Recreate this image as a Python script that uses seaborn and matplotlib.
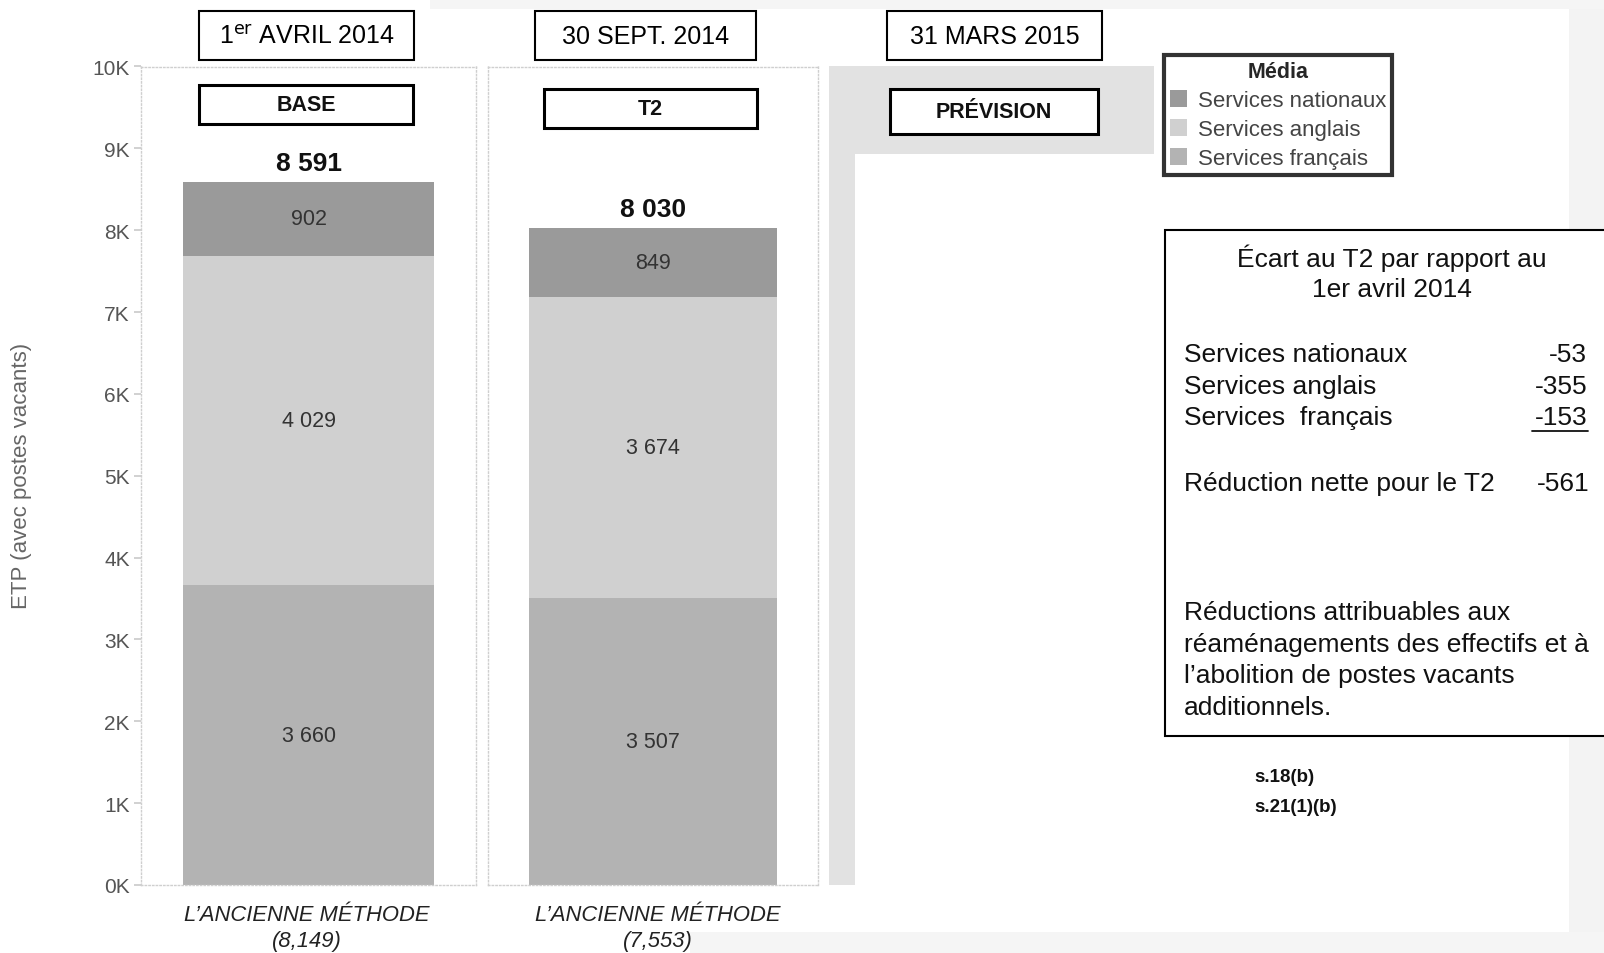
import matplotlib
matplotlib.use("Agg")
import matplotlib.pyplot as plt
import seaborn as sns
import pandas as pd
from matplotlib.patches import Rectangle, Patch
from matplotlib.lines import Line2D

sns.set_theme(style="white")
plt.rcParams['font.family'] = ['Liberation Sans', 'DejaVu Sans']

# ---------------- data ----------------
periods = ["1er AVRIL 2014", "30 SEPT. 2014", "31 MARS 2015"]
phases = ["BASE", "T2", "PRÉVISION"]
series = ["Services nationaux", "Services anglais", "Services français"]
francais = [3660, 3507]
anglais = [4029, 3674]
nationaux = [902, 849]
ancienne = ["(8,149)", "(7,553)"]
yticks = [0, 1000, 2000, 3000, 4000, 5000, 6000, 7000, 8000, 9000, 10000]
ytick_labels = ["0K", "1K", "2K", "3K", "4K", "5K", "6K", "7K", "8K", "9K", "10K"]
ecart_labels = ["Services nationaux", "Services anglais", "Services  français"]
ecart_values = ["-53", "-355", "-153"]
reduction_nette = "-561"

colors = {"Services nationaux": "#9a9a9a", "Services anglais": "#d0d0d0",
          "Services français": "#b3b3b3"}

W, H = 1604, 954
fig = plt.figure(figsize=(W / 100, H / 100), dpi=100)
fig.patch.set_facecolor("white")


def fx(x):
    return x / W


def fy(y):
    return 1 - y / H


def add_axes_px(x0, x1, y0, y1):
    return fig.add_axes([fx(x0), fy(y1), (x1 - x0) / W, (y1 - y0) / H])


# faint scan artefacts
fig.add_artist(Rectangle((fx(1569), fy(933)), 1, 933 / H, transform=fig.transFigure,
                         facecolor="#f3f3f3", edgecolor="none", zorder=0))
fig.add_artist(Rectangle((fx(690), 0), 1, 21 / H, transform=fig.transFigure,
                         facecolor="#f5f5f5", edgecolor="none", zorder=0))
fig.add_artist(Rectangle((fx(430), fy(10)), 1, 10 / H, transform=fig.transFigure,
                         facecolor="#f5f5f5", edgecolor="none", zorder=0))

# third panel grey background
fig.add_artist(Rectangle((fx(829), fy(155)), (1154 - 829) / W, (155 - 67) / H,
                         transform=fig.transFigure, facecolor="#e2e2e2",
                         edgecolor="none", zorder=0))
fig.add_artist(Rectangle((fx(829), fy(886)), (855 - 829) / W, (886 - 155) / H,
                         transform=fig.transFigure, facecolor="#e2e2e2",
                         edgecolor="none", zorder=0))

panel_px = [(141, 476), (488, 818)]
Y0, Y1 = 67.5, 886

for i, (x0, x1) in enumerate(panel_px):
    ax = add_axes_px(x0, x1, Y0, Y1)
    ax.set_facecolor("none")
    df = pd.DataFrame({"cat": [phases[i]],
                       "total": [francais[i] + anglais[i] + nationaux[i]],
                       "fa": [francais[i] + anglais[i]],
                       "f": [francais[i]]})
    sns.barplot(data=df, x="cat", y="total", color=colors["Services nationaux"],
                width=0.75, ax=ax, saturation=1, linewidth=0)
    sns.barplot(data=df, x="cat", y="fa", color=colors["Services anglais"],
                width=0.75, ax=ax, saturation=1, linewidth=0)
    sns.barplot(data=df, x="cat", y="f", color=colors["Services français"],
                width=0.75, ax=ax, saturation=1, linewidth=0)
    ax.set_xlim(-0.5, 0.5)
    ax.set_ylim(0, 10000)
    ax.set_xlabel("")
    ax.set_ylabel("")
    ax.set_xticks([])
    for sp in ax.spines.values():
        sp.set_visible(True)
        sp.set_color("#cfcfcf")
        sp.set_linestyle(":")
        sp.set_linewidth(1.0)
    ax.set_yticks(yticks)
    if i == 0:
        ax.set_yticklabels(ytick_labels, color="#555555", fontsize=15)
        ax.tick_params(axis="y", length=5, color="#cccccc", pad=3, left=True)
    else:
        ax.set_yticklabels([])
        ax.tick_params(axis="y", length=0)
    # segment labels
    segs = [(francais[i], 0), (anglais[i], francais[i]),
            (nationaux[i], francais[i] + anglais[i])]
    for val, base in segs:
        ax.text(0, base + val / 2, f"{val:,}".replace(",", " "), ha="center",
                va="center", fontsize=15.5, color="#333333")
    tot = francais[i] + anglais[i] + nationaux[i]
    ax.text(0, tot + 80, f"{tot:,}".replace(",", " "), ha="center", va="bottom",
            fontsize=19, fontweight="bold", color="#111111")

# y axis label
fig.text(fx(22), fy(476), "ETP (avec postes vacants)", rotation=90, ha="center",
         va="center", fontsize=16, color="#666666")

# period boxes
date_boxes = [(199, 414), (535, 756), (887, 1102)]
for (x0, x1), label in zip(date_boxes, periods):
    fig.add_artist(Rectangle((fx(x0), fy(61)), (x1 - x0) / W, (61 - 12) / H,
                             transform=fig.transFigure, facecolor="white",
                             edgecolor="black", linewidth=1.5, zorder=3))
    if label.startswith("1er"):
        txt = r"1$^{\mathrm{er}}$ AVRIL 2014"
    else:
        txt = label
    fig.text(fx((x0 + x1) / 2), fy(37), txt, ha="center", va="center",
             fontsize=18, color="black", zorder=4)

# phase boxes
phase_boxes = [(199, 413, 86, 125), (544, 757, 90, 129), (890, 1098, 90, 135)]
for (x0, x1, y0, y1), label in zip(phase_boxes, phases):
    fig.add_artist(Rectangle((fx(x0), fy(y1)), (x1 - x0) / W, (y1 - y0) / H,
                             transform=fig.transFigure, facecolor="white",
                             edgecolor="black", linewidth=2.2, zorder=3))
    fig.text(fx((x0 + x1) / 2), fy((y0 + y1) / 2), label, ha="center",
             va="center", fontsize=15.5, fontweight="bold", color="#111111", zorder=4)

# bottom labels
for xc, lab in zip([307, 658], ancienne):
    fig.text(fx(xc), fy(916), "L’ANCIENNE MÉTHODE", ha="center", va="center",
             fontsize=15.8, style="italic", color="#222222")
    fig.text(fx(xc), fy(942), lab, ha="center", va="center", fontsize=15.8,
             style="italic", color="#222222")

# legend
handles = [Patch(facecolor=colors[s], edgecolor="none", label=s) for s in series]
leg = fig.legend(handles=handles, title="Média", loc="upper left",
                 bbox_to_anchor=(fx(1164), fy(56)), fontsize=16,
                 title_fontproperties={"weight": "bold", "size": 15.5},
                 frameon=True, fancybox=False, borderpad=0.25, labelspacing=0.36,
                 handlelength=0.8, handleheight=0.8, handletextpad=0.5,
                 borderaxespad=0)
leg.get_frame().set_edgecolor("black")
leg.get_frame().set_linewidth(3)
for t in leg.get_texts():
    t.set_color("#444444")

# text box
fig.add_artist(Rectangle((fx(1165), fy(737)), (1620 - 1165) / W, (737 - 231) / H,
                         transform=fig.transFigure, facecolor="white",
                         edgecolor="black", linewidth=1.5, zorder=2, clip_on=False))
FS = 19
fig.text(fx(1392), fy(258), "Écart au T2 par rapport au", ha="center", va="center",
         fontsize=FS, color="#111111", zorder=3)
fig.text(fx(1392), fy(290), "1er avril 2014", ha="center", va="center",
         fontsize=FS, color="#111111", zorder=3)
for yy, lab, val in zip([355, 387, 418], ecart_labels, ecart_values):
    fig.text(fx(1184), fy(yy), lab, ha="left", va="center", fontsize=FS,
             color="#111111", zorder=3)
    fig.text(fx(1587), fy(yy), val, ha="right", va="center", fontsize=FS,
             color="#111111", zorder=3)
fig.add_artist(Line2D([fx(1532), fx(1588)], [fy(432), fy(432)],
                      transform=fig.transFigure, color="#111111", linewidth=1.3,
                      zorder=3))
fig.text(fx(1184), fy(484), "Réduction nette pour le T2", ha="left", va="center",
         fontsize=FS, color="#111111", zorder=3)
fig.text(fx(1589), fy(484), reduction_nette, ha="right", va="center", fontsize=FS,
         color="#111111", zorder=3)
for yy, line in zip([613, 645, 676, 708],
                    ["Réductions attribuables aux",
                     "réaménagements des effectifs et à",
                     "l’abolition de postes vacants",
                     "additionnels."]):
    fig.text(fx(1184), fy(yy), line, ha="left", va="center", fontsize=FS,
             color="#111111", zorder=3)

fig.text(fx(1254), fy(778), "s.18(b)", ha="left", va="center", fontsize=13.5,
         fontweight="bold", color="#111111")
fig.text(fx(1254), fy(808), "s.21(1)(b)", ha="left", va="center", fontsize=13.5,
         fontweight="bold", color="#111111")

fig.savefig("out.png", dpi=100)
